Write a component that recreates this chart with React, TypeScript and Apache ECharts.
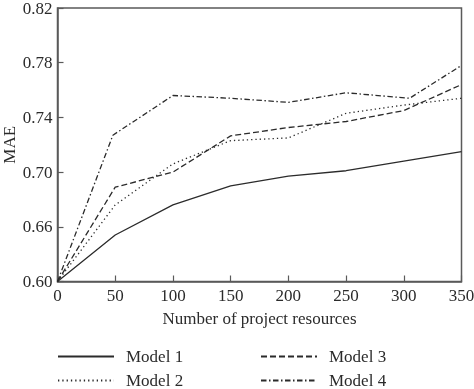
import React, { useEffect, useRef } from "react";
import * as echarts from "echarts";

const xValues = [0, 50, 100, 150, 200, 250, 300, 350];
const xValuesModel4 = [0, 48, 100, 150, 200, 250, 305, 350];
const model1 = [0.62, 0.654, 0.676, 0.69, 0.697, 0.701, 0.708, 0.715];
const model2 = [0.62, 0.676, 0.706, 0.723, 0.725, 0.743, 0.749, 0.754];
const model3 = [0.62, 0.689, 0.7, 0.7265, 0.7326, 0.737, 0.745, 0.764];
const model4 = [0.62, 0.727, 0.756, 0.754, 0.751, 0.758, 0.754, 0.778];
const seriesNames = ["Model 1", "Model 2", "Model 3", "Model 4"];
// tick positions and labels shown on the y axis (bottom label is printed as 0.60)
const yTickLabels: Record<string, string> = {
  "0.62": "0.60",
  "0.66": "0.66",
  "0.70": "0.70",
  "0.74": "0.74",
  "0.78": "0.78",
  "0.82": "0.82",
};

const FONT = "'Liberation Serif', 'DejaVu Serif', serif";
const INK = "#2b2b2b";
const FS = 17;

export default function App() {
  const ref = useRef<HTMLDivElement>(null);
  useEffect(() => {
    if (!ref.current) return;
    const chart = echarts.init(ref.current, undefined, { renderer: "svg" });
    const pairs = (xs: number[], ys: number[]) => xs.map((x, i) => [x, ys[i]]);
    const dashes: any[] = ["solid", [1.3, 3], [6, 3], [5.5, 2.5, 1.5, 2.5]];
    const datas = [
      pairs(xValues, model1),
      pairs(xValues, model2),
      pairs(xValues, model3),
      pairs(xValuesModel4, model4),
    ];
    const legendCommon = {
      orient: "vertical",
      top: 348,
      padding: 0,
      itemWidth: 56,
      itemHeight: 14,
      itemGap: 7,
      itemStyle: { opacity: 0 },
      textStyle: { fontFamily: FONT, fontSize: FS, color: INK, padding: [0, 0, 0, 7] },
      selectedMode: false,
    };
    chart.setOption({
      animation: false,
      grid: {
        left: 57.5,
        right: 12.5,
        top: 8,
        bottom: 107.5,
        outerBoundsMode: "none",
        containLabel: false,
        show: true,
        borderColor: "#5a5a5a",
        borderWidth: 1.5,
        backgroundColor: "transparent",
      },
      legend: [
        { ...legendCommon, left: 57, data: [seriesNames[0], seriesNames[1]] },
        { ...legendCommon, left: 260, data: [seriesNames[2], seriesNames[3]] },
      ],
      xAxis: {
        type: "value",
        min: 0,
        max: 350,
        interval: 50,
        name: "Number of project resources",
        nameLocation: "middle",
        nameGap: 28,
        nameMoveOverlap: false,
        nameTextStyle: { fontFamily: FONT, fontSize: FS, color: INK },
        axisLine: { show: true, lineStyle: { color: "#5a5a5a", width: 1.5 } },
        axisTick: { show: true, inside: true, length: 6, lineStyle: { color: "#5a5a5a", width: 1.2 } },
        axisLabel: { fontFamily: FONT, fontSize: FS, color: INK, margin: 5 },
        splitLine: { show: false },
      },
      yAxis: {
        type: "value",
        min: 0.62,
        max: 0.82,
        interval: 0.04,
        name: "MAE",
        nameLocation: "middle",
        nameGap: 40,
        nameMoveOverlap: false,
        nameTextStyle: { fontFamily: FONT, fontSize: FS, color: INK },
        axisLine: { show: true, lineStyle: { color: "#5a5a5a", width: 1.5 } },
        axisTick: { show: true, inside: true, length: 6, lineStyle: { color: "#5a5a5a", width: 1.2 } },
        axisLabel: {
          fontFamily: FONT,
          fontSize: FS,
          color: INK,
          margin: 5,
          formatter: (v: number) => yTickLabels[v.toFixed(2)] ?? v.toFixed(2),
        },
        splitLine: { show: false },
      },
      series: seriesNames.map((name, i) => ({
        type: "line",
        name,
        data: datas[i],
        symbol: "none",
        showSymbol: false,
        lineStyle: { color: INK, width: 1.3, type: dashes[i] },
        itemStyle: { color: INK },
      })),
    });
    return () => chart.dispose();
  }, []);
  return (
    <div
      ref={ref}
      style={{ position: "fixed", left: 0, top: 0, width: 474, height: 389 }}
    />
  );
}
